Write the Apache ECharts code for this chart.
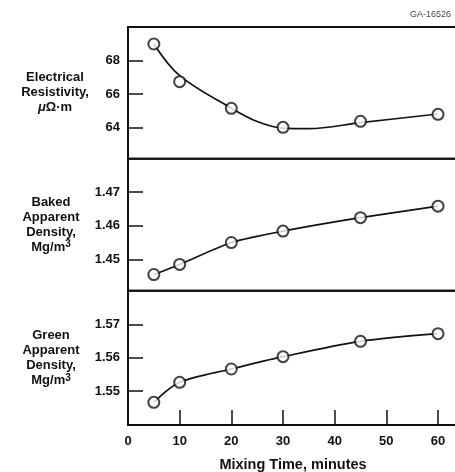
<!DOCTYPE html>
<html>
<head>
<meta charset="utf-8">
<script src="https://cdn.jsdelivr.net/npm/echarts@6/dist/echarts.min.js"></script>
<style>
  html, body { margin: 0; padding: 0; background: #fff; }
  #chart { width: 455px; height: 472px; }
</style>
</head>
<body>
<div id="chart"></div>
<script>
// mixing time, minutes
const mixTime = [5, 10, 20, 30, 45, 60]
// measured points
const resistivity = [69.0, 66.74, 65.14, 64.0, 64.36, 64.78]
const bakedDensity = [1.4455, 1.4485, 1.4550, 1.4584, 1.4624, 1.4658]
const greenDensity = [1.5466, 1.5526, 1.5566, 1.5603, 1.5649, 1.5672]
// fitted curve through the resistivity points
const resFitTime = [5, 10, 20, 25, 30, 35, 45, 60]
const resFit = [69.0, 67.1, 65.15, 64.35, 63.95, 63.92, 64.28, 64.8]

// tick labels
const xTicks = [0, 10, 20, 30, 40, 50, 60]
const xTickMarks = [10, 20, 30, 40, 50, 60]
const resTicks = [64, 66, 68]
const bakedTicks = [1.45, 1.46, 1.47]
const greenTicks = [1.55, 1.56, 1.57]

const font = '"Liberation Sans", Arial, sans-serif'
const xMax = 63.87

const chart = echarts.init(document.getElementById('chart'))

const gridBase = {
    left: 128, width: 330, show: true, borderColor: '#111', borderWidth: 2,
    backgroundColor: 'transparent', outerBoundsMode: 'none', containLabel: false
}

const xAxisBase = (gridIndex, visible) => ({
    type: 'value',
    gridIndex: gridIndex,
    min: 0,
    max: xMax,
    show: visible,
    axisLine: { show: true, lineStyle: { color: '#111', width: 2 } },
    axisTick: {
        show: true,
        inside: true,
        length: 15,
        customValues: xTickMarks,
        lineStyle: { color: '#111', width: 1.5 }
    },
    axisLabel: {
        customValues: xTicks,
        margin: 10,
        color: '#111',
        fontSize: 13,
        fontWeight: 'bold',
        fontFamily: font
    },
    splitLine: { show: false },
    name: visible ? 'Mixing Time, minutes' : '',
    nameLocation: 'middle',
    nameGap: 32,
    nameTextStyle: { color: '#111', fontSize: 14.5, fontWeight: 'bold', fontFamily: font }
})

const nameRich = {
    sup: { fontSize: 10, fontWeight: 'bold', fontFamily: font, color: '#111', verticalAlign: 'top', lineHeight: 15 },
    mu: { fontSize: 13, fontStyle: 'italic', fontFamily: font, color: '#111', lineHeight: 15 }
}

const yAxisBase = (gridIndex, min, max, ticks, name, digits, gap) => ({
    type: 'value',
    gridIndex: gridIndex,
    min: min,
    max: max,
    axisLine: { show: true, lineStyle: { color: '#111', width: 2 } },
    axisTick: {
        show: true,
        inside: true,
        length: 15,
        customValues: ticks,
        lineStyle: { color: '#111', width: 1.5 }
    },
    axisLabel: {
        customValues: ticks,
        margin: 8,
        color: '#111',
        fontSize: 13,
        fontWeight: 'bold',
        fontFamily: font,
        formatter: v => v.toFixed(digits)
    },
    splitLine: { show: false },
    name: name,
    nameLocation: 'middle',
    nameRotate: 0,
    nameGap: gap,
    nameTextStyle: {
        color: '#111',
        fontSize: 13,
        fontWeight: 'bold',
        fontFamily: font,
        align: 'center',
        lineHeight: 15,
        rich: nameRich
    }
})

const pointSeries = (idx, data) => ({
    type: 'scatter',
    xAxisIndex: idx,
    yAxisIndex: idx,
    data: mixTime.map((t, i) => [t, data[i]]),
    symbol: 'circle',
    symbolSize: 11,
    itemStyle: { color: '#fff', borderColor: '#111', borderWidth: 2 },
    z: 5
})

const lineSeries = (idx, xs, ys, smooth) => ({
    type: 'line',
    xAxisIndex: idx,
    yAxisIndex: idx,
    data: xs.map((t, i) => [t, ys[i]]),
    showSymbol: false,
    smooth: smooth,
    lineStyle: { color: '#111', width: 1.7 },
    z: 3
})

const option = {
    animation: false,
    backgroundColor: '#fff',
    graphic: [{
        type: 'text',
        left: 410,
        top: 10,
        style: { text: 'GA-16526', fill: '#444', fontSize: 9, fontFamily: font }
    }],
    grid: [
        Object.assign({ top: 27, height: 131.7 }, gridBase),
        Object.assign({ top: 158.7, height: 132 }, gridBase),
        Object.assign({ top: 290.7, height: 134.3 }, gridBase)
    ],
    xAxis: [xAxisBase(0, false), xAxisBase(1, false), xAxisBase(2, true)],
    yAxis: [
        yAxisBase(0, 62.12, 70.02, resTicks, 'Electrical\nResistivity,\n{mu|μ}Ω·m', 0, 73),
        yAxisBase(1, 1.4407, 1.4799, bakedTicks, 'Baked\nApparent\nDensity,\nMg/m{sup|3}', 2, 77),
        yAxisBase(2, 1.5398, 1.5801, greenTicks, 'Green\nApparent\nDensity,\nMg/m{sup|3}', 2, 77)
    ],
    series: [
        lineSeries(0, resFitTime, resFit, 0.35),
        pointSeries(0, resistivity),
        lineSeries(1, mixTime, bakedDensity, 0.2),
        pointSeries(1, bakedDensity),
        lineSeries(2, mixTime, greenDensity, 0.3),
        pointSeries(2, greenDensity)
    ]
}

chart.setOption(option)
</script>
</body>
</html>
